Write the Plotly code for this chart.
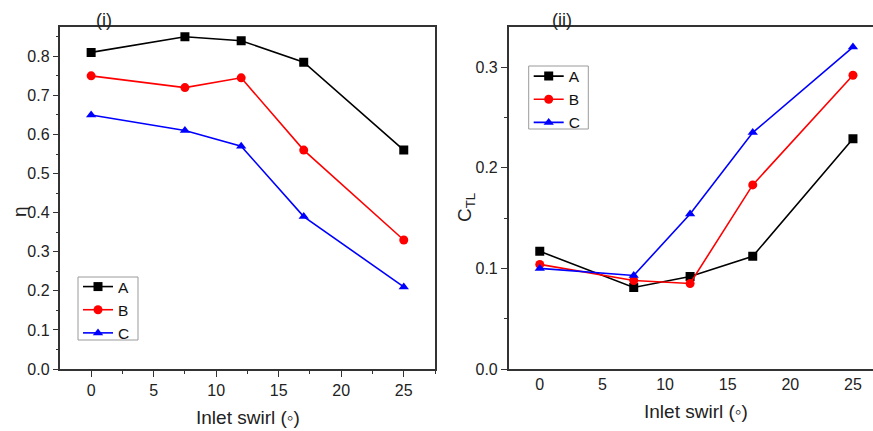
import plotly.graph_objects as go

# Inlet swirl angles (degrees)
swirl = [0, 7.5, 12, 17, 25]

# (i) efficiency eta for cases A, B, C
eta_A = [0.81, 0.85, 0.84, 0.785, 0.56]
eta_B = [0.75, 0.72, 0.745, 0.56, 0.33]
eta_C = [0.65, 0.61, 0.57, 0.39, 0.21]

# (ii) tip leakage coefficient C_TL for cases A, B, C
ctl_A = [0.117, 0.081, 0.092, 0.112, 0.229]
ctl_B = [0.104, 0.088, 0.085, 0.183, 0.292]
ctl_C = [0.100, 0.093, 0.154, 0.235, 0.320]

case_names = ["A", "B", "C"]
colors = ["#000000", "#ff0000", "#0000ff"]
symbols = ["square", "circle", "triangle-up"]

FONT = "Liberation Sans"
AXC = "#333333"
TXT = "#222222"
W, H = 873, 431
TOP, BOTTOM = 27, 62  # plot area margins in px


def px_x(px):
    return px / W


def px_y(px):
    return (H - BOTTOM - px) / (H - TOP - BOTTOM)


fig = go.Figure()

for name, ys, col, sym in zip(case_names, [eta_A, eta_B, eta_C], colors, symbols):
    fig.add_trace(go.Scatter(
        x=swirl, y=ys, name=name, mode="lines+markers",
        line=dict(color=col, width=1.6),
        marker=dict(symbol=sym, size=9, color=col),
        xaxis="x", yaxis="y", legend="legend",
    ))

for name, ys, col, sym in zip(case_names, [ctl_A, ctl_B, ctl_C], colors, symbols):
    fig.add_trace(go.Scatter(
        x=swirl, y=ys, name=name, mode="lines+markers",
        line=dict(color=col, width=1.6),
        marker=dict(symbol=sym, size=9, color=col),
        xaxis="x2", yaxis="y2", legend="legend2",
    ))

tickfont = dict(family=FONT, size=16, color=TXT)
titlefont = dict(family=FONT, size=19, color=TXT)
labelfont = dict(family=FONT, size=18, color=TXT)
legfont = dict(family=FONT, size=15.5, color="#111111")

fig.update_layout(
    width=W, height=H,
    margin=dict(l=0, r=0, t=TOP, b=BOTTOM),
    paper_bgcolor="white", plot_bgcolor="white",
    font=dict(family=FONT, color=TXT),
    xaxis=dict(
        domain=[0.0693, 0.4983], range=[-2.45, 27.5],
        tickvals=[0, 5, 10, 15, 20, 25], ticks="outside", ticklen=6, tickwidth=1.2,
        tickcolor=AXC, showline=True, linecolor=AXC, linewidth=1.5, mirror=True,
        showgrid=False, zeroline=False, tickfont=tickfont,
        minor=dict(ticks="outside", ticklen=3, dtick=2.5, tick0=0, tickcolor=AXC, showgrid=False),
    ),
    yaxis=dict(
        domain=[0, 1], range=[0, 0.875],
        tickvals=[0, 0.1, 0.2, 0.3, 0.4, 0.5, 0.6, 0.7, 0.8], tickformat=".1f",
        ticks="outside", ticklen=6, tickwidth=1.2, tickcolor=AXC,
        showline=True, linecolor=AXC, linewidth=1.5, mirror=True,
        showgrid=False, zeroline=False, tickfont=tickfont,
        minor=dict(ticks="outside", ticklen=3, dtick=0.05, tick0=0, tickcolor=AXC, showgrid=False),
    ),
    xaxis2=dict(
        domain=[0.5827, 1.0], range=[-2.48, 26.6], anchor="y2",
        tickvals=[0, 5, 10, 15, 20, 25], ticks="",
        showline=True, linecolor=AXC, linewidth=1.5, mirror=True,
        showgrid=False, zeroline=False, tickfont=tickfont,
    ),
    yaxis2=dict(
        domain=[0, 1], range=[0, 0.34], anchor="x2",
        tickvals=[0, 0.1, 0.2, 0.3], tickformat=".1f",
        ticks="outside", ticklen=6, tickwidth=1.2, tickcolor=AXC,
        showline=True, linecolor=AXC, linewidth=1.5, mirror=False,
        showgrid=False, zeroline=False, tickfont=tickfont,
        minor=dict(ticks="outside", ticklen=3, dtick=0.05, tick0=0, tickcolor=AXC, showgrid=False),
    ),
    legend=dict(
        x=px_x(78), y=px_y(270), xanchor="left", yanchor="top",
        bgcolor="rgba(0,0,0,0)", borderwidth=0,
        font=legfont, tracegroupgap=0, itemwidth=30,
    ),
    legend2=dict(
        x=px_x(528.7), y=px_y(59.5), xanchor="left", yanchor="top",
        bgcolor="rgba(0,0,0,0)", borderwidth=0,
        font=legfont, tracegroupgap=0, itemwidth=30,
    ),
    shapes=[
        # legend frames
        dict(type="rect", xref="paper", yref="paper", layer="below",
             x0=px_x(78), x1=px_x(138), y0=px_y(340), y1=px_y(277),
             line=dict(color="#9a9a9a", width=1), fillcolor="white"),
        dict(type="rect", xref="paper", yref="paper", layer="below",
             x0=px_x(528.7), x1=px_x(588.3), y0=px_y(129), y1=px_y(66),
             line=dict(color="#9a9a9a", width=1), fillcolor="white"),
    ],
    annotations=[
        dict(text="(i)", x=px_x(103.5), y=px_y(20), font=labelfont),
        dict(text="(ii)", x=px_x(562), y=px_y(20), font=labelfont),
        dict(text="\u03b7", x=px_x(19), y=px_y(212), textangle=-90, font=titlefont),
        dict(text="C<sub>TL</sub>", x=px_x(466), y=px_y(208), textangle=-90, font=titlefont),
        dict(text="Inlet swirl (\u25e6)", x=px_x(247.5), y=px_y(417), font=titlefont),
        dict(text="Inlet swirl (\u25e6)", x=px_x(696), y=px_y(411), font=titlefont),
    ],
)

fig.update_annotations(xref="paper", yref="paper", xanchor="center",
                       yanchor="middle", showarrow=False)

fig.write_html("out.html")
